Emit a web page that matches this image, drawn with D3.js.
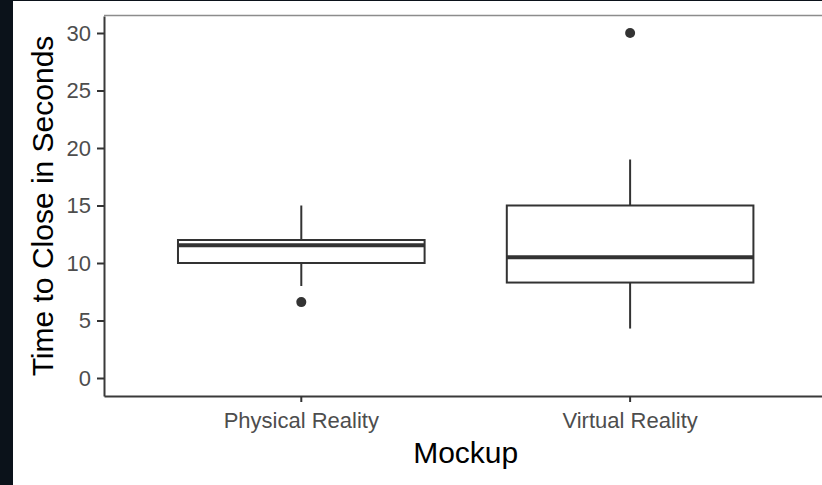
<!DOCTYPE html>
<html>
<head>
<meta charset="utf-8">
<script src="https://cdn.jsdelivr.net/npm/d3@7"></script>
<style>
  body { margin: 0; background: #0b121a; }
  svg { display: block; font-family: "Liberation Sans", Arial, sans-serif; }
</style>
</head>
<body>
<svg id="chart" width="822" height="485"></svg>
<script>
// box plot summary values
const categories = ["Physical Reality", "Virtual Reality"];
const lowerWhisker = [8.0, 4.3];
const q1 = [10.0, 8.3];
const medians = [11.55, 10.5];
const q3 = [12.0, 15.0];
const upperWhisker = [15.0, 19.0];
const outliers = [[6.6], [30.0]];
const yTicks = [0, 5, 10, 15, 20, 25, 30];

var svg = d3.select("#chart"),
    width = +svg.attr("width"),
    height = +svg.attr("height");

// plot edges (right edge lies past the picture, it was cropped)
var plotLeft = 104, plotTop = 16, plotBottom = 396, plotRight = 827.4;
var ink = "#333333";

// page background: dark strip on the left, white plot area
svg.append("rect").attr("width", width).attr("height", height).attr("fill", "#0b121a");
svg.append("rect")
    .attr("x", 13).attr("y", 1)
    .attr("width", width - 13).attr("height", height - 1)
    .attr("fill", "white");

var y = d3.scaleLinear()
    .domain([-1.565, 31.478])
    .range([plotBottom, plotTop]);

var x = d3.scaleBand()
    .domain(categories)
    .range([plotLeft, plotRight])
    .paddingInner(0.25)
    .paddingOuter(0.225);

var boxes = categories.map(function(c, i) {
    return {
        name: c,
        lo: lowerWhisker[i], q1: q1[i], med: medians[i],
        q3: q3[i], hi: upperWhisker[i], out: outliers[i]
    };
});

// gray top edge line
svg.append("line")
    .attr("x1", plotLeft).attr("x2", width)
    .attr("y1", plotTop - 0.5).attr("y2", plotTop - 0.5)
    .attr("stroke", "#8c8c8c")
    .attr("stroke-width", 1.5);

var g = svg.append("g").attr("class", "boxes");

var box = g.selectAll("g.box")
    .data(boxes)
    .enter()
    .append("g")
    .attr("class", "box");

var mid = d => x(d.name) + x.bandwidth() / 2;

// whiskers
box.append("line")
    .attr("x1", mid).attr("x2", mid)
    .attr("y1", d => y(d.hi))
    .attr("y2", d => y(d.q3))
    .attr("stroke", ink).attr("stroke-width", 2);

box.append("line")
    .attr("x1", mid).attr("x2", mid)
    .attr("y1", d => y(d.q1))
    .attr("y2", d => y(d.lo))
    .attr("stroke", ink).attr("stroke-width", 2);

// box
box.append("rect")
    .attr("x", d => x(d.name))
    .attr("y", d => y(d.q3))
    .attr("width", x.bandwidth())
    .attr("height", d => y(d.q1) - y(d.q3))
    .attr("fill", "white")
    .attr("stroke", ink)
    .attr("stroke-width", 2);

// median
box.append("line")
    .attr("x1", d => x(d.name))
    .attr("x2", d => x(d.name) + x.bandwidth())
    .attr("y1", d => y(d.med))
    .attr("y2", d => y(d.med))
    .attr("stroke", ink).attr("stroke-width", 4);

// outliers
box.selectAll("circle")
    .data(d => d.out.map(v => ({ name: d.name, v: v })))
    .enter()
    .append("circle")
    .attr("cx", mid)
    .attr("cy", d => y(d.v))
    .attr("r", 5)
    .attr("fill", ink);

// axes
var yAxis = svg.append("g")
    .attr("transform", "translate(" + plotLeft + ",0)")
    .call(d3.axisLeft(y).tickValues(yTicks).tickSize(7).tickSizeOuter(0).tickPadding(6));

var xAxis = svg.append("g")
    .attr("transform", "translate(0," + plotBottom + ")")
    .call(d3.axisBottom(x).tickSize(6).tickSizeOuter(0).tickPadding(10.5));

[yAxis, xAxis].forEach(function(a) {
    a.select(".domain").attr("stroke", "#3a3a3a").attr("stroke-width", 2);
    a.selectAll(".tick line").attr("stroke", ink).attr("stroke-width", 2);
    a.selectAll(".tick text")
        .attr("fill", "#4d4d4d")
        .style("font-size", "22px")
        .style("font-family", "'Liberation Sans', Arial, sans-serif");
});

// axis titles
svg.append("text")
    .attr("transform", "translate(52.5," + (plotTop + plotBottom) / 2 + ") rotate(-90)")
    .attr("text-anchor", "middle")
    .attr("fill", "black")
    .style("font-size", "30px")
    .text("Time to Close in Seconds");

svg.append("text")
    .attr("x", (plotLeft + plotRight) / 2)
    .attr("y", 463)
    .attr("text-anchor", "middle")
    .attr("fill", "black")
    .style("font-size", "30px")
    .text("Mockup");
</script>
</body>
</html>
